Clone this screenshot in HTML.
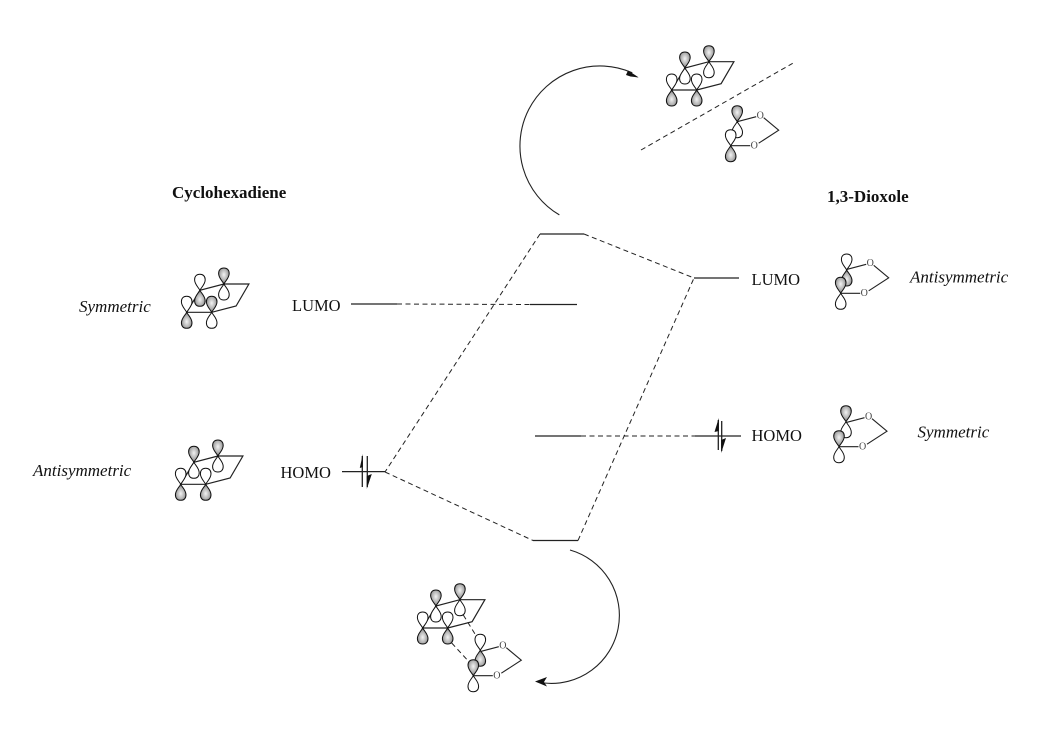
<!DOCTYPE html>
<html><head><meta charset="utf-8"><style>
html,body{margin:0;padding:0;background:#fff}
svg{display:block}
text{font-family:"Liberation Serif",serif;fill:#111}
.t{font-size:16.5px}
.i{font-size:17px;font-style:italic}
.b{font-size:17px;font-weight:bold}
.o{font-size:10px;text-anchor:middle;fill:#444}
.s{fill:none;stroke:#222;stroke-width:1.2}
.d{fill:none;stroke:#222;stroke-width:1;stroke-dasharray:5 3.5}
.l{fill:none;stroke:#222;stroke-width:1.3}
.a{fill:none;stroke:#222;stroke-width:1.1}
</style></head><body>
<svg xmlns="http://www.w3.org/2000/svg" width="1056" height="752" viewBox="0 0 1056 752">
<defs>
<radialGradient id="g" cx="0.5" cy="0.42" r="0.68"><stop offset="0" stop-color="#f4f4f4"/><stop offset="0.6" stop-color="#a6a6a6"/><stop offset="1" stop-color="#1c1c1c"/></radialGradient>
<path id="lobe" d="M0 0C-1.5 -3 -5.3 -6 -5.3 -10.5C-5.3 -14 -3.3 -16 0 -16C3.3 -16 5.3 -14 5.3 -10.5C5.3 -6 1.5 -3 0 0Z" stroke="#111" stroke-width="1"/>
<g id="pa"><use href="#lobe" fill="#fff" transform="scale(1,-1)"/><use href="#lobe" fill="url(#g)"/></g>
<g id="pb"><use href="#lobe" fill="url(#g)" transform="scale(1,-1)"/><use href="#lobe" fill="#fff"/></g>
<g id="ring"><path class="s" d="M0 0L13.2 -22L37.2 -28.3L62.2 -28.3L49.4 -6.3L25 0Z" fill="none"/></g>
<g id="diox"><path class="a" d="M6.5 -24L25.5 -29M33 -28L48 -15.5L28 -2.5M0 0L19.5 0"/>
<text class="o" x="29.6" y="-27.4">O</text><text class="o" x="23.6" y="2.8">O</text></g>
</defs>

<!-- Curved arrows -->
<path class="a" d="M559.35 214.9A80 80 0 0 1 632.3 72.8"/>
<path d="M628 70.5L638.8 77.5L630.5 76.5L626 75Z" fill="#111"/>
<path class="a" d="M570 550A68 68 0 0 1 544 683"/>
<path d="M535 681.5L547 677L544 682L547 686.5Z" fill="#111"/>
<path class="d" d="M641 150L792.7 63.3"/>

<!-- Energy levels -->
<path class="l" d="M351 304H397M530 304.5H577M342 471.6H385M540 234H584M694 278H739M535 436H581M695 436H741M533 540.5H578"/>
<path class="d" d="M397 304L530 304.5M581 436H695M540 234L385 472M584 234L694 278M385 472L533 540.5M578 540.5L694 278"/>

<!-- Electron spins -->
<path class="l" d="M362.3 456V487M367.3 456V487"/>
<path d="M362.8 454L359.8 468L362.8 467Z" fill="#111"/><path d="M366.8 489L371.8 474L366.8 476Z" fill="#111"/>
<path class="l" d="M718.3 420V450M721.7 421V451"/>
<path d="M718.8 418L714.5 432L718.8 431Z" fill="#111"/><path d="M721.2 453L726 438L721.2 440Z" fill="#111"/>

<!-- Cyclohexadiene LUMO -->
<g transform="translate(186.7,312.3)"><use href="#ring"/><use href="#pb"/><use href="#pa" x="25"/><use href="#pb" x="13.2" y="-22"/><use href="#pa" x="37.2" y="-28.3"/></g>
<!-- Cyclohexadiene HOMO -->
<g transform="translate(180.7,484.3)"><use href="#ring"/><use href="#pb"/><use href="#pb" x="25"/><use href="#pa" x="13.2" y="-22"/><use href="#pa" x="37.2" y="-28.3"/></g>
<!-- Top -->
<g transform="translate(671.7,90)"><use href="#ring"/><use href="#pa" x="13.2" y="-22"/><use href="#pa" x="37.2" y="-28.3"/><use href="#pb"/><use href="#pb" x="25"/></g>
<!-- Bottom -->
<g transform="translate(422.7,628)"><use href="#ring"/><use href="#pa" x="13.2" y="-22"/><use href="#pa" x="37.2" y="-28.3"/><use href="#pb"/><use href="#pb" x="25"/></g>
<path class="d" d="M451.7 643L468.3 661M463.3 615L476.7 636.7" stroke-dasharray="4 3"/>

<!-- Dioxole LUMO -->
<g transform="translate(840.7,293.3)"><use href="#diox"/><use href="#pb" x="6" y="-23.3"/><use href="#pa"/></g>
<!-- Dioxole HOMO -->
<g transform="translate(839,446.7)"><use href="#diox"/><use href="#pa" x="7" y="-25"/><use href="#pa"/></g>
<!-- Dioxole top -->
<g transform="translate(730.7,145.7)"><use href="#diox"/><use href="#pa" x="6.5" y="-24"/><use href="#pb"/></g>
<!-- Dioxole bottom -->
<g transform="translate(473.3,675.7)"><use href="#diox"/><use href="#pb" x="7" y="-25.5"/><use href="#pa"/></g>

<!-- Labels -->
<text class="b" x="172" y="198">Cyclohexadiene</text>
<text class="b" x="827" y="202">1,3-Dioxole</text>
<text class="i" x="79" y="312">Symmetric</text>
<text class="i" x="33" y="476">Antisymmetric</text>
<text class="t" x="292" y="311">LUMO</text>
<text class="t" x="280.5" y="478">HOMO</text>
<text class="t" x="751.5" y="285">LUMO</text>
<text class="t" x="751.5" y="441">HOMO</text>
<text class="i" x="910" y="282.5">Antisymmetric</text>
<text class="i" x="917.5" y="437.5">Symmetric</text>
</svg>
</body></html>
